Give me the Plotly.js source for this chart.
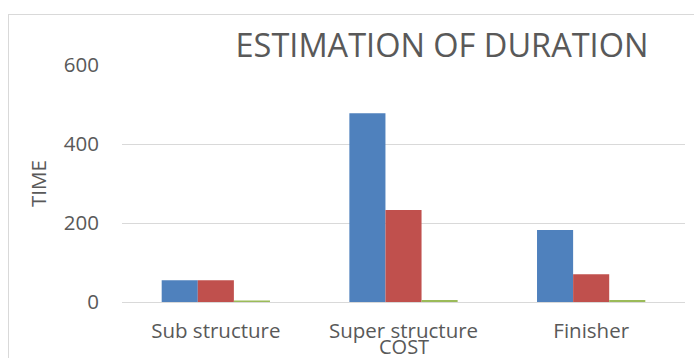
<!DOCTYPE html>
<html>
<head>
<meta charset="utf-8">
<script src="https://cdn.plot.ly/plotly-3.0.1.min.js"></script>
<style>
  html, body { margin: 0; padding: 0; background: #fff; overflow: hidden; }
  #chart { width: 694px; height: 358px; position: relative; }
  #frame {
    position: absolute; left: 8px; top: 14px; width: 720px; height: 400px;
    border: 1px solid #d9d9d9; box-sizing: border-box; pointer-events: none;
  }
</style>
</head>
<body>
<div id="chart"></div>
<div id="frame"></div>
<script>
// Construction phases on the category axis
const phases = ["Sub structure", "Super structure", "Finisher"];

// Three duration series per phase
const series1 = [55, 478, 182];
const series2 = [55, 233, 70];
const series3 = [4, 5, 5];

// Y axis ticks
const timeTicks = [0, 200, 400, 600];

const grey = "#595959";
const font = "Open Sans, DejaVu Sans, sans-serif";

const traces = [
  { name: "Series1", values: series1, color: "#4f81bd" },
  { name: "Series2", values: series2, color: "#c0504d" },
  { name: "Series3", values: series3, color: "#9bbb59" }
].map(s => ({
  type: "bar",
  name: s.name,
  x: phases,
  y: s.values,
  marker: { color: s.color },
  hoverinfo: "x+y"
}));

const layout = {
  width: 694,
  height: 358,
  paper_bgcolor: "#ffffff",
  plot_bgcolor: "#ffffff",
  showlegend: false,
  barmode: "group",
  bargap: 0.423,
  bargroupgap: 0,
  margin: { l: 122, r: 9, t: 65, b: 56, pad: 0 },
  font: { family: font, color: grey },
  title: {
    text: "ESTIMATION OF DURATION",
    font: { family: font, size: 32.5, color: grey },
    x: 442 / 694, xref: "container", xanchor: "center",
    y: 1 - 46 / 358, yref: "container", yanchor: "middle"
  },
  xaxis: {
    type: "category",
    showgrid: false,
    showline: false,
    zeroline: false,
    ticks: "",
    ticklabelstandoff: 14,
    tickfont: { family: font, size: 20.5, color: grey },
    title: { text: "", font: { family: font, size: 20, color: grey } }
  },
  yaxis: {
    range: [0, 600],
    tickvals: timeTicks,
    ticktext: timeTicks.map(String),
    showgrid: true,
    gridcolor: "#d9d9d9",
    gridwidth: 1,
    zeroline: true,
    zerolinecolor: "#d9d9d9",
    zerolinewidth: 1,
    showline: false,
    ticks: "",
    ticklabelstandoff: 22,
    tickfont: { family: font, size: 20.5, color: grey },
    title: { text: "TIME", standoff: 11, font: { family: font, size: 20.5, color: grey } }
  },
  // Axis caption for the categories, tucked up under the tick labels
  annotations: [{
    text: "COST",
    xref: "paper", yref: "paper",
    x: 0.5, y: 0, yanchor: "middle", yshift: -44,
    showarrow: false,
    font: { family: font, size: 20, color: grey }
  }]
};

Plotly.newPlot("chart", traces, layout, { displayModeBar: false, staticPlot: true });
</script>
</body>
</html>
